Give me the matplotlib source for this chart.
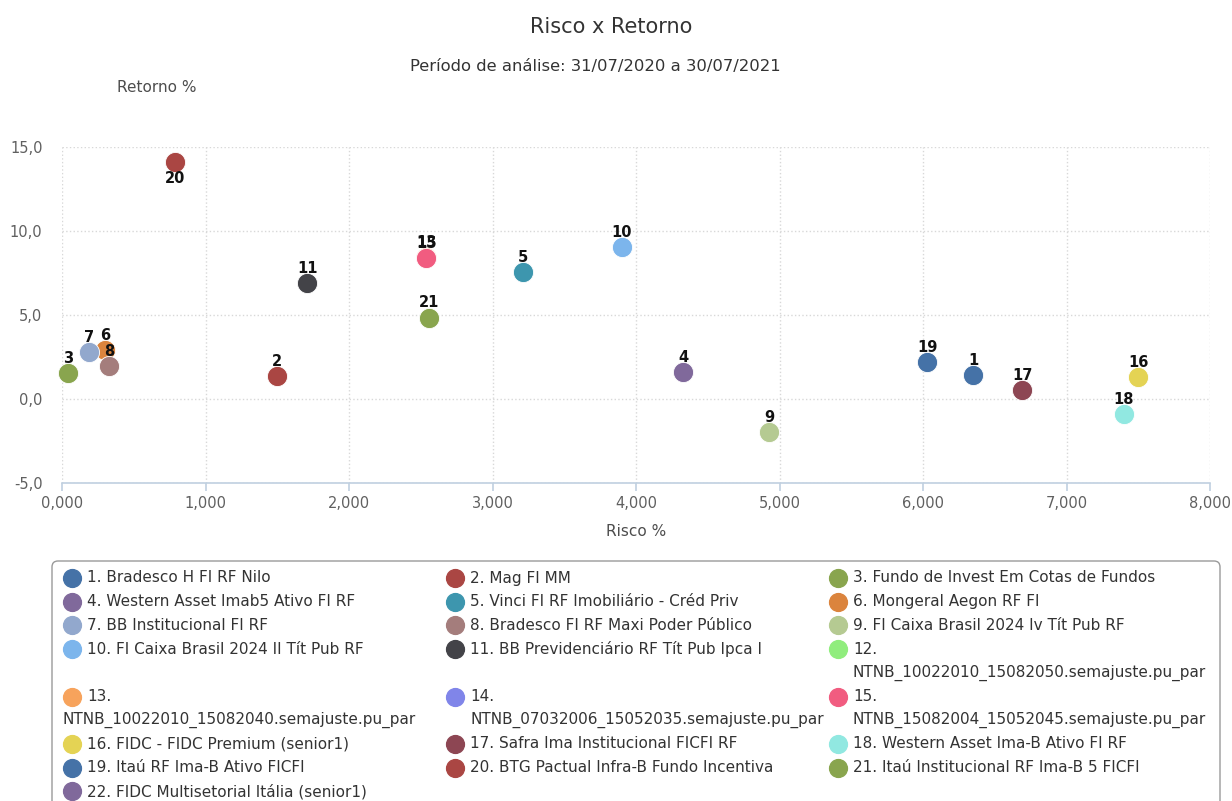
"""Risco x Retorno scatter (fund risk vs return, 31/07/2020 - 30/07/2021)."""

import matplotlib

matplotlib.use("Agg")
import matplotlib.pyplot as plt  # noqa: E402
import numpy as np  # noqa: E402
from matplotlib.patches import FancyBboxPatch  # noqa: E402
from matplotlib.ticker import FuncFormatter  # noqa: E402

plt.rcParams["font.family"] = ["DejaVu Sans"]

# --- data -------------------------------------------------------------------
fund_ids = list(range(1, 23))
fund_names = [
    "Bradesco H FI RF Nilo",
    "Mag FI MM",
    "Fundo de Invest Em Cotas de Fundos",
    "Western Asset Imab5 Ativo FI RF",
    "Vinci FI RF Imobiliário - Créd Priv",
    "Mongeral Aegon RF FI",
    "BB Institucional FI RF",
    "Bradesco FI RF Maxi Poder Público",
    "FI Caixa Brasil 2024 Iv Tít Pub RF",
    "FI Caixa Brasil 2024 II Tít Pub RF",
    "BB Previdenciário RF Tít Pub Ipca I",
    "\nNTNB_10022010_15082050.semajuste.pu_par",
    "\nNTNB_10022010_15082040.semajuste.pu_par",
    "\nNTNB_07032006_15052035.semajuste.pu_par",
    "\nNTNB_15082004_15052045.semajuste.pu_par",
    "FIDC - FIDC Premium (senior1)",
    "Safra Ima Institucional FICFI RF",
    "Western Asset Ima-B Ativo FI RF",
    "Itaú RF Ima-B Ativo FICFI",
    "BTG Pactual Infra-B Fundo Incentiva",
    "Itaú Institucional RF Ima-B 5 FICFI",
    "FIDC Multisetorial Itália (senior1)",
]
risco = [6.35, 1.50, 0.04, 4.33, 3.21, 0.30, 0.19, 0.33, 4.93, 3.90, 1.71,
         np.nan, 2.54, np.nan, 2.54, 7.50, 6.69, 7.40, 6.03, 0.79, 2.56, np.nan]
retorno = [1.44, 1.38, 1.56, 1.60, 7.58, 2.93, 2.77, 1.94, -1.96, 9.06, 6.91,
           np.nan, 8.45, np.nan, 8.41, 1.28, 0.55, -0.87, 2.20, 14.11, 4.85, np.nan]
label_below = [20]

palette = ["#4572A7", "#AA4643", "#89A54E", "#80699B", "#3D96AE", "#DB843D",
           "#92A8CD", "#A47D7C", "#B5CA92", "#7cb5ec", "#434348", "#90ed7d",
           "#f7a35c", "#8085e9", "#f15c80", "#e4d354", "#8d4653", "#91e8e1"]
colors = [palette[i % len(palette)] for i in range(len(fund_ids))]

x_ticks = np.arange(0, 9, 1)
y_ticks = np.arange(-5, 20, 5)

# --- figure -----------------------------------------------------------------
W, H = 1232, 801
fig = plt.figure(figsize=(W / 100, H / 100), dpi=100)
L, R, T, B = 62, 1210, 147, 483
ax = fig.add_axes([L / W, 1 - B / H, (R - L) / W, (B - T) / H])

# overlay in pixel coords for titles / legend
ov = fig.add_axes([0, 0, 1, 1], zorder=-1)
ov.set_xlim(0, W); ov.set_ylim(H, 0); ov.axis("off")

for n, x, y, c in zip(fund_ids, risco, retorno, colors):
    if np.isnan(x):
        continue
    z = 2 if n == 13 else 3
    ax.scatter(x, y, s=210, color=c, edgecolor="white", linewidth=0.6, zorder=z, clip_on=False)
    dy = -12 if n in label_below else 10.5
    ax.annotate(str(n), (x, y), xytext=(0, dy), textcoords="offset points",
                ha="center", va="center", fontsize=10.5, fontweight="bold",
                color="#111111", zorder=4)

ax.set_xlim(0, 8); ax.set_ylim(-5, 15)
ax.set_xticks(x_ticks); ax.set_yticks(y_ticks)
ax.xaxis.set_major_formatter(FuncFormatter(lambda v, _: f"{v:.3f}".replace(".", ",")))
ax.yaxis.set_major_formatter(FuncFormatter(lambda v, _: f"{v:.1f}".replace(".", ",")))
ax.grid(True, ls=":", color="#d8d8d8", lw=1)
ax.set_axisbelow(True)
for s in ["top", "right", "left"]:
    ax.spines[s].set_visible(False)
ax.spines["bottom"].set_color("#C0D0E0"); ax.spines["bottom"].set_linewidth(1.2)
ax.tick_params(axis="x", length=6, color="#C0D0E0", width=1.2, pad=3,
               labelsize=10.5, labelcolor="#606060")
ax.tick_params(axis="y", length=0, pad=14, labelsize=10.5, labelcolor="#606060")

ov.text(611, 27, "Risco x Retorno", ha="center", va="center", fontsize=15, color="#333333")
ov.text(595, 66, "Período de análise: 31/07/2020 a 30/07/2021", ha="center", va="center",
        fontsize=11.8, color="#333333")
ov.text(157, 88, "Retorno %", ha="center", va="center", fontsize=11, color="#4d4d4d")
ov.text(636, 531, "Risco %", ha="center", va="center", fontsize=11, color="#4d4d4d")

# --- legend (3 columns, row-major, HTML-like row alignment) -----------------
ov.add_patch(FancyBboxPatch((52, 561), 1168, 260, boxstyle="round,pad=0,rounding_size=6",
                            fc="white", ec="#9a9a9a", lw=1))
marker_x = [72, 455, 838]
text_x = [87, 470, 853]
wrap_x = [62, 471, 853]
row0, line_h = 578, 23.7
labels = [f"{n}. {name}" if not name.startswith("\n") else f"{n}.{name}"
          for n, name in zip(fund_ids, fund_names)]
n_rows = int(np.ceil(len(labels) / 3))
line = 0
for r in range(n_rows):
    items = list(range(r * 3, min(r * 3 + 3, len(labels))))
    y0 = row0 + line * line_h
    for i in items:
        col = i % 3
        ov.scatter(marker_x[col], y0, s=165, color=colors[i], zorder=3)
        parts = labels[i].split("\n")
        ov.text(text_x[col], y0, parts[0], ha="left", va="center", fontsize=11, color="#333333")
        for k, p in enumerate(parts[1:], start=1):
            ov.text(wrap_x[col], y0 + k * line_h, p, ha="left", va="center",
                    fontsize=11, color="#333333")
    line += max(len(labels[i].split("\n")) for i in items)

fig.savefig("out.png", dpi=100)
